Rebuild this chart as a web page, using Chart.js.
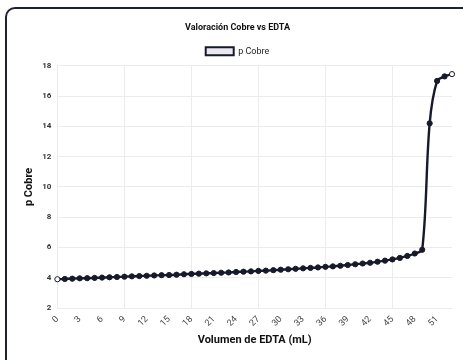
<!DOCTYPE html>
<html>
<head>
<meta charset="utf-8">
<script src="https://cdn.jsdelivr.net/npm/chart.js@4.4.0/dist/chart.umd.min.js"></script>
<style>
  html, body { margin: 0; padding: 0; background: #ffffff; overflow: hidden; }
  #frame {
    position: absolute; left: 5px; top: 7px; width: 480px; height: 380px;
    border: 2px solid #1f2230; border-top-left-radius: 10px; background: #fff;
  }
  #wrap { position: absolute; left: 0; top: 0; width: 463px; height: 360px; }
</style>
</head>
<body>
<div id="frame"></div>
<div id="wrap"><canvas id="chart"></canvas></div>
<script>
// Volumen de EDTA (mL), one point per mL
const volumes = [
    0, 1, 2, 3, 4, 5, 6, 7, 8, 9, 10, 11, 12, 13, 14, 15, 16, 17,
    18, 19, 20, 21, 22, 23, 24, 25, 26, 27, 28, 29, 30, 31, 32, 33, 34, 35,
    36, 37, 38, 39, 40, 41, 42, 43, 44, 45, 46, 47, 48, 49, 50, 51, 52, 53
];

// p Cobre
const pCobre = [
    3.90, 3.92, 3.94, 3.96, 3.97, 3.99, 4.01, 4.03, 4.05, 4.07, 4.09, 4.11,
    4.13, 4.15, 4.17, 4.18, 4.20, 4.23, 4.25, 4.27, 4.29, 4.31, 4.33, 4.35,
    4.38, 4.40, 4.42, 4.45, 4.47, 4.50, 4.53, 4.56, 4.59, 4.62, 4.65, 4.68,
    4.72, 4.75, 4.79, 4.84, 4.89, 4.94, 4.99, 5.06, 5.13, 5.21, 5.31, 5.44,
    5.60, 5.85, 14.2, 17.0, 17.3, 17.45
];

const labelEvery = 3;
const lineColor = "#161a2b";

const ctx = document.getElementById("chart").getContext("2d");

// first and last markers are drawn hollow in the original
const pointFill = pCobre.map(function(v, i) {
    return (i === 0 || i === pCobre.length - 1) ? "#ffffff" : lineColor;
});

new Chart(ctx, {
    type: "line",
    data: {
        labels: volumes,
        datasets: [{
            label: "p Cobre",
            data: pCobre,
            borderColor: lineColor,
            backgroundColor: "#e9e9ef",
            borderWidth: 2.4,
            tension: 0.35,
            pointRadius: 2.6,
            pointBorderWidth: 1,
            pointBorderColor: lineColor,
            pointBackgroundColor: pointFill
        }]
    },
    options: {
        responsive: true,
        maintainAspectRatio: false,
        animation: false,
        layout: {
            padding: { top: 22, right: 11, bottom: 9, left: 23 }
        },
        plugins: {
            title: {
                display: true,
                text: "Valoración Cobre vs EDTA",
                color: "#111",
                font: { family: "Roboto", size: 9, weight: "bold" },
                padding: { top: 0, bottom: 9 }
            },
            legend: {
                display: true,
                labels: {
                    boxWidth: 28,
                    boxHeight: 8,
                    color: "#222",
                    font: { family: "Roboto", size: 9 },
                    padding: 5,
                    generateLabels: function(chart) {
                        return [{
                            text: "p Cobre",
                            fillStyle: "#e9e9ef",
                            strokeStyle: lineColor,
                            lineWidth: 2,
                            fontColor: "#222",
                            datasetIndex: 0
                        }];
                    }
                }
            },
            tooltip: { enabled: false }
        },
        scales: {
            x: {
                type: "category",
                title: {
                    display: true,
                    text: "Volumen de EDTA (mL)",
                    color: "#111",
                    font: { family: "Roboto", size: 11, weight: "bold" },
                    padding: { top: 3 }
                },
                ticks: {
                    autoSkip: false,
                    maxRotation: 45,
                    minRotation: 45,
                    color: "#444",
                    font: { family: "Roboto", size: 9 },
                    padding: 2,
                    callback: function(value, index) {
                        return index % labelEvery === 0 ? volumes[index] : null;
                    }
                },
                grid: {
                    color: function(c) {
                        return c.index % labelEvery === 0 ? "#ececec" : "rgba(0,0,0,0)";
                    },
                    tickLength: 4,
                    tickColor: "rgba(0,0,0,0)"
                },
                border: { display: false }
            },
            y: {
                min: 2,
                max: 18,
                title: {
                    display: true,
                    text: "p Cobre",
                    color: "#111",
                    font: { family: "Roboto", size: 11, weight: "bold" },
                    padding: { top: 0, bottom: 0 }
                },
                ticks: {
                    stepSize: 2,
                    color: "#333",
                    font: { family: "Roboto", size: 8, weight: "bold" },
                    padding: 6
                },
                grid: {
                    color: "#ececec",
                    drawTicks: false
                },
                border: { display: false }
            }
        }
    }
});
</script>
</body>
</html>
